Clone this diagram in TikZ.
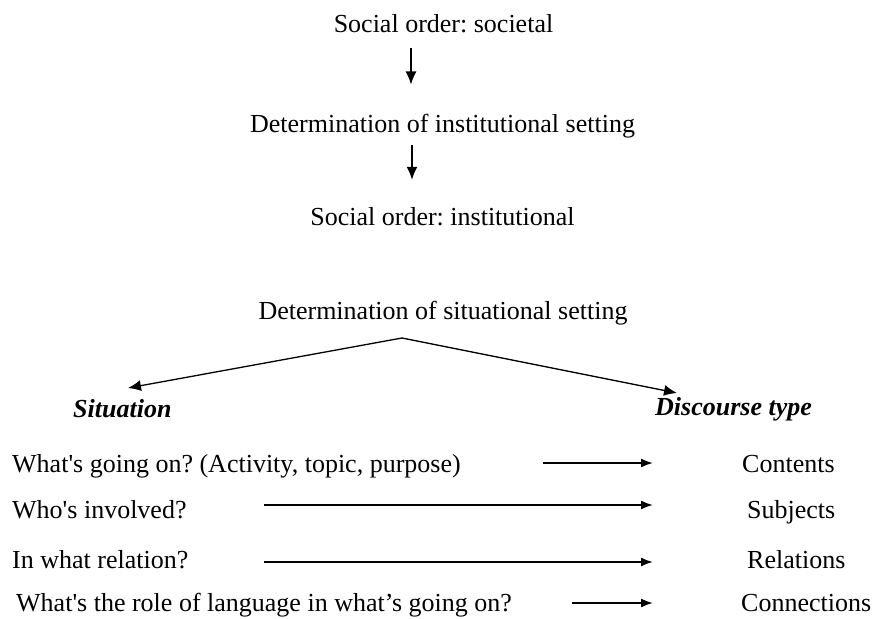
\documentclass[tikz,border=0pt]{standalone}
\usepackage{fontspec}
\setmainfont{Liberation Serif}[Ligatures=TeXOff]
\usetikzlibrary{arrows.meta}
\frenchspacing
\tikzstyle{lbl} = [font=\fontsize{26}{30}\selectfont, inner sep=0pt, anchor=base]
\tikzstyle{lft} = [lbl, anchor=base west]
\tikzstyle{hd} = [lft, font=\fontsize{26}{30}\selectfont\bfseries\itshape]
\tikzstyle{arr} = [draw, line width=1.3pt, -{Latex[length=13pt,width=11pt]}]
\tikzstyle{rowarr} = [draw, line width=1.8pt, -{Latex[length=12pt,width=9pt]}]

\begin{document}
\begin{tikzpicture}[x=1pt,y=-1pt]
  \useasboundingbox (0,0) rectangle (872,618);

  \node[lbl] (soc)     at (443.5,33)  {Social order: societal};
  \node[lbl] (inst)    at (442.5,132) {Determination of institutional setting};
  \node[lbl] (socinst) at (442.5,225) {Social order: institutional};
  \node[lbl] (situset) at (443,319)   {Determination of situational setting};

  \node[hd] (sitn) at (73,417)  {Situation};
  \node[hd] (disc) at (655,415) {Discourse type};

  \node[lft] (q1) at (12,472) {What's going on? (Activity, topic, purpose)};
  \node[lft] (q2) at (12,518) {Who's involved?};
  \node[lft] (q3) at (12,568) {In what relation?};
  \node[lft] (q4) at (16,611) {What's the role of language in what’s going on?};

  \node[lft] (c1) at (742,472) {Contents};
  \node[lft] (c2) at (747,518) {Subjects};
  \node[lft] (c3) at (747,568) {Relations};
  \node[lft] (c4) at (741,611) {Connections};

  % top chain
  \draw[arr,shorten <=14pt,shorten >=29pt] ([xshift=-32.5pt]soc.south) -- ([xshift=-31.5pt]inst.north);
  \draw[arr,shorten <=7pt,shorten >=27pt] ([xshift=-30.5pt]inst.south) -- ([xshift=-30.5pt]socinst.north);

  % split
  \coordinate (split) at (402,338);
  \coordinate (tipL)  at (128,388);
  \coordinate (tipR)  at (677,393);
  \draw[arr] (split) -- (tipL);
  \draw[arr] (split) -- (tipR);

  % rows
  \coordinate (r1a) at (543,463); \coordinate (r1b) at (653,463);
  \coordinate (r2a) at (264,505); \coordinate (r2b) at (653,505);
  \coordinate (r3a) at (264,562); \coordinate (r3b) at (653,562);
  \coordinate (r4a) at (572,603); \coordinate (r4b) at (653,603);
  \draw[rowarr] (r1a) -- (r1b);
  \draw[rowarr] (r2a) -- (r2b);
  \draw[rowarr] (r3a) -- (r3b);
  \draw[rowarr] (r4a) -- (r4b);
\end{tikzpicture}
\end{document}
